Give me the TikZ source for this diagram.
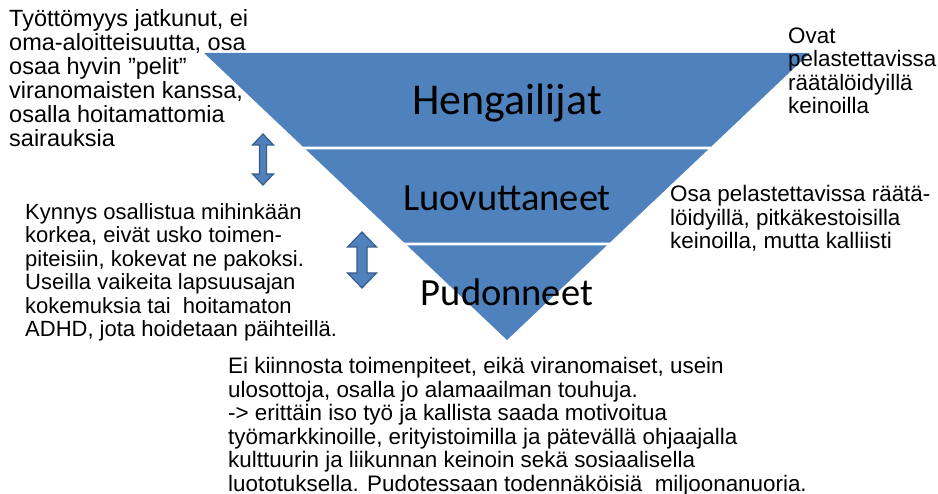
\documentclass[tikz,border=0pt]{standalone}
\usepackage{fontspec}
\setmainfont{Liberation Sans}
\newfontfamily\labelfont{Carlito}
\usetikzlibrary{calc}
\definecolor{bandblue}{HTML}{4F81BD}
\definecolor{edgeblue}{HTML}{385D8A}
\tikzset{
  band/.style={fill=bandblue, draw=none},
  bandlabel/.style={font=\labelfont\fontsize{38.5}{40}\selectfont, inner sep=0pt, anchor=base},
  note/.style={font=\fontsize{22.4}{23.5}\selectfont, align=left, inner sep=0pt, anchor=base west},
  bignote/.style={font=\fontsize{23.5}{24}\selectfont, align=left, inner sep=0pt, anchor=base west},
  blockarrow/.style={fill=bandblue, draw=edgeblue, line width=1.2pt, line join=miter}
}
\begin{document}
\begin{tikzpicture}[x=1pt,y=-1pt]
\useasboundingbox (0,0) rectangle (938,494);
\coordinate (TL) at (204,53);
\coordinate (TR) at (810,53);
\coordinate (A) at (507,340);
% bands
\path[band] (TL) -- (TR) -- ($(TR)!0.3258!(A)$) -- ($(TL)!0.3258!(A)$) -- cycle;
\path[band] ($(TL)!0.3362!(A)$) -- ($(TR)!0.3362!(A)$) -- ($(TR)!0.6603!(A)$) -- ($(TL)!0.6603!(A)$) -- cycle;
\path[band] ($(TL)!0.6707!(A)$) -- ($(TR)!0.6707!(A)$) -- (A) -- cycle;
% band labels
\node[bandlabel, font=\labelfont\fontsize{44}{46}\selectfont] (heng) at (507,115) {Hengailijat};
\node[bandlabel] (luov) at (507,211) {Luovuttaneet};
\node[bandlabel] (pud) at (507,306) {Pudonneet};
% double arrows
\draw[blockarrow] (263,134) -- (273.5,145) -- (266.5,145) -- (266.5,174) -- (273.5,174) -- (263,185) -- (252.5,174) -- (259.5,174) -- (259.5,145) -- (252.5,145) -- cycle;
\draw[blockarrow] (362,232) -- (376.5,247) -- (367,247) -- (367,273) -- (376.5,273) -- (362,288) -- (347.5,273) -- (357,273) -- (357,247) -- (347.5,247) -- cycle;
% notes (anchored at the baseline of the last line)
\node[bignote] (tl) at (9,147) {Työttömyys jatkunut, ei\\oma-aloitteisuutta, osa\\osaa hyvin ”pelit”\\viranomaisten kanssa,\\osalla hoitamattomia\\sairauksia};
\node[note, font=\fontsize{22}{23.5}\selectfont] (ml) at (25,337) {Kynnys osallistua mihinkään\\korkea, eivät usko toimen-\\piteisiin, kokevat ne pakoksi.\\Useilla vaikeita lapsuusajan\\kokemuksia tai \ hoitamaton\\ADHD, jota hoidetaan päihteillä.};
\node[note] (rt) at (788,114) {Ovat\\pelastettavissa\\räätälöidyillä\\keinoilla};
\node[note] (rm) at (670,249) {Osa pelastettavissa räätä-\\löidyillä, pitkäkestoisilla\\keinoilla, mutta kalliisti};
\node[note] (bt) at (228,491) {Ei kiinnosta toimenpiteet, eikä viranomaiset, usein\\ulosottoja, osalla jo alamaailman touhuja.\\-> erittäin iso työ ja kallista saada motivoitua\\työmarkkinoille, erityistoimilla ja pätevällä ohjaajalla\\kulttuurin ja liikunnan keinoin sekä sosiaalisella\\luototuksella. Pudotessaan todennäköisiä \ miljoonanuoria.};
\end{tikzpicture}
\end{document}
